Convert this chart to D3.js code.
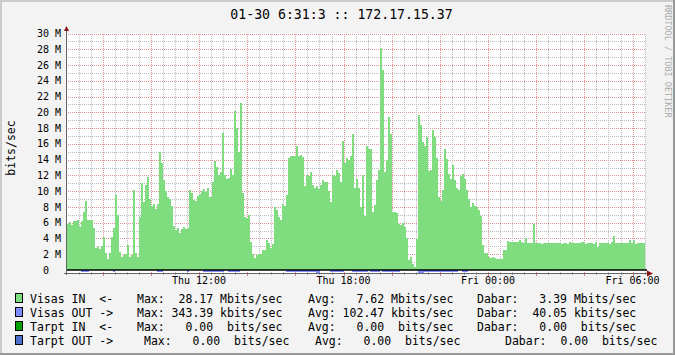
<!DOCTYPE html>
<html>
<head>
<meta charset="utf-8">
<script src="https://cdn.jsdelivr.net/npm/d3@7"></script>
<style>
  body { margin: 0; background: #f3f3f3; }
  svg { display: block; }
  svg text { font-family: "DejaVu Sans Mono", monospace; white-space: pre; }
</style>
</head>
<body>
<div id="chart"></div>
<script>
  'use strict';

  // 24h of 5 minute samples, Thu 06:31 -> Fri 06:31
  const startTime = new Date(2015, 0, 29, 6, 31);
  const endTime = new Date(2015, 0, 30, 6, 31);
  const title = '01-30 6:31:3 :: 172.17.15.37';
  const unitLabel = 'bits/sec';
  const watermark = 'RRDTOOL / TOBI OETIKER';

  // Visas IN, Mbits/sec
  const inMbits = [
    5.8, 6.1, 5.7, 6.2, 6.2, 6.3, 5.5, 6.2, 7.3, 8.8,
    6.4, 6.3, 6.4, 5.3, 2.75, 2.9, 2.7, 3.0, 4.2, 2.1,
    1.4, 2.2, 4.2, 5.3, 9.5, 7.0, 2.3, 1.6, 1.9, 2.0,
    3.2, 1.6, 1.9, 10.2, 2.2, 1.7, 6.7, 11.0, 8.6, 10.8,
    11.8, 9.0, 8.1, 8.4, 7.7, 8.4, 15.0, 13.6, 11.4, 10.0,
    9.3, 9.0, 8.1, 5.6, 5.1, 5.3, 4.7, 5.2, 5.4, 5.2,
    5.3, 10.2, 9.8, 8.9, 8.8, 9.4, 9.7, 10.0, 10.3, 9.9,
    10.4, 9.3, 11.2, 13.8, 13.1, 12.1, 12.4, 17.4, 12.1, 11.5,
    11.7, 12.8, 12.1, 20.2, 18.0, 15.0, 21.2, 9.8, 6.7, 6.6,
    7.0, 3.6, 2.0, 1.5, 1.9, 2.0, 2.0, 2.5, 2.5, 3.8,
    3.4, 2.75, 3.3, 8.0, 7.6, 6.7, 6.4, 8.4, 8.1, 9.5,
    14.2, 14.5, 14.5, 14.5, 15.7, 14.5, 14.6, 14.3, 10.6, 12.1,
    11.9, 12.4, 10.8, 10.4, 10.6, 10.3, 10.8, 11.4, 11.2, 11.1,
    10.0, 8.6, 12.1, 11.9, 12.7, 12.3, 11.1,
    16.4, 13.6, 14.2, 14.0, 14.5,
    17.2, 10.4, 11.5, 10.4, 8.05, 12.1, 6.9, 15.7, 15.3, 15.3,
    7.3, 8.3, 11.4, 12.7, 28.17, 25.4, 12.4, 13.9, 19.4, 17.2,
    7.3, 7.4, 7.2, 5.8, 5.7, 5.9, 5.5, 4.0, 1.3, 1.6,
    0.8, 0.4, 3.9, 19.6, 18.4, 16.3, 15.7, 16.9, 12.5, 12.7,
    17.7, 16.9, 14.2, 9.3, 8.8, 10.2, 15.3, 14.1, 12.2,
    11.5, 13.3, 11.4, 10.4, 10.1, 11.9, 12.2, 11.5, 10.2, 9.0,
    8.0, 8.5, 8.1, 8.05, 7.6, 6.8, 3.2, 2.2, 2.1, 1.6,
    1.5, 1.6, 1.5, 1.4, 1.4, 1.4, 2.6, 2.5, 3.7, 3.6,
    3.6, 3.6, 3.5, 3.5, 3.8, 3.5, 3.4, 4.1, 3.4, 3.4,
    3.4, 5.8, 3.4, 3.4, 3.4, 3.3, 3.4, 3.4,
    3.4, 3.4, 3.4, 3.4, 3.4, 3.4, 3.4, 3.3, 3.4, 3.4,
    3.3, 3.6, 3.4, 3.4, 3.4, 3.4, 3.4, 3.6, 3.6, 3.3,
    3.4, 3.4, 3.4, 3.3, 3.5, 2.9, 3.4, 3.4, 3.4, 3.4,
    3.4, 3.3, 3.6, 4.3, 3.4, 3.4, 3.4, 3.4, 3.4, 3.4,
    3.4, 3.8, 3.4, 3.8, 3.3, 3.4, 3.4, 3.4, 3.39
  ];

  // Visas OUT, kbits/sec (drawn below zero)
  const outKbits = [
    40, 45, 38, 50, 42, 36, 48,
    240, 260, 250, 230,
    40, 35, 50, 45, 38, 42, 30, 36, 44, 40, 38, 46,
    200,
    40, 38, 45, 50, 36, 42, 40, 35, 48, 44, 40, 38, 42, 46, 36, 40, 44, 38, 50, 42, 40,
    240, 255, 230,
    45, 40, 38, 42, 36, 44, 40, 38, 46, 42, 40, 36,
    210,
    42, 38, 40, 45, 36, 40, 44,
    240, 255, 250, 230, 245, 260, 250, 235, 245, 250,
    45, 40,
    245, 250, 240, 260, 255, 235,
    42, 38, 40, 45, 36, 40, 44, 38, 42, 46, 40, 36, 44, 40, 38, 42, 45, 40, 36, 44, 40, 42, 38,
    245, 250, 255, 240, 260, 250, 245, 235, 250, 255, 245, 240, 250, 260, 245,
    343.39, 330,
    40, 42, 38, 45, 40,
    240, 250, 255, 245, 235, 250, 245,
    42, 38, 40, 44,
    250, 245, 255, 240, 250, 260, 245, 250, 60, 240, 255, 250,
    245, 235, 60, 250, 245, 255, 240, 250, 245, 260, 250, 240,
    40, 38, 42, 45, 36, 40, 44, 38, 42,
    320, 330, 335, 315,
    250, 245, 255, 240, 250, 260, 245, 250, 240, 255, 250, 245, 235, 250, 245, 255,
    40, 38,
    240, 250, 245,
    30, 28, 32, 35, 30, 26, 34, 31, 29, 33, 30,
    27, 32, 30, 36, 29, 31, 28, 34, 30, 32, 29,
    31, 30, 27, 33, 35, 30, 28, 32, 30, 29, 34,
    30, 32, 28, 31, 36, 30, 29, 33, 27, 31, 30,
    34, 29, 31, 30, 28, 32, 30, 35, 29, 31, 33,
    28, 30, 32, 29, 31, 34, 30, 27, 32, 30, 31,
    29, 33, 30, 28, 31, 30, 36, 29, 32, 30, 28,
    31, 30, 34, 29, 32, 30, 31, 28, 33, 30, 40.05
  ];

  const yTicks = [0, 2, 4, 6, 8, 10, 12, 14, 16, 18, 20, 22, 24, 26, 28, 30];

  const legendNames = ['Visas IN  <-', 'Visas OUT ->', 'Tarpt IN  <-', 'Tarpt OUT ->'];
  const legendColors = ['#7fdc7f', '#7f8cff', '#00a000', '#4f6fcf'];
  const maxValues = [28.17, 343.39, 0, 0];
  const avgValues = [7.62, 102.47, 0, 0];
  const curValues = [3.39, 40.05, 0, 0];
  const valuePrefix = ['M', 'k', ' ', ' '];

  const W = 675, H = 355;
  const plotLeft = 67, plotRight = 645, plotTop = 33.5, plotBottom = 273;

  const svg = d3.select('#chart').append('svg')
    .attr('width', W)
    .attr('height', H);

  svg.append('rect').attr('width', W).attr('height', H).attr('fill', '#f3f3f3');
  // shaded frame
  svg.append('path').attr('d', `M1,${H} V1 H${W}`).attr('fill', 'none')
    .attr('stroke', '#cbcbcb').attr('stroke-width', 2);
  svg.append('path').attr('d', `M0,${H - 1} H${W - 1} V0`).attr('fill', 'none')
    .attr('stroke', '#999').attr('stroke-width', 2);

  const x = d3.scaleTime().domain([startTime, endTime]).range([plotLeft, plotRight]);
  const y = d3.scaleLinear().domain([-0.38, 30]).range([plotBottom, plotTop]);

  svg.append('rect')
    .attr('x', plotLeft).attr('y', plotTop)
    .attr('width', plotRight - plotLeft).attr('height', plotBottom - plotTop)
    .attr('fill', '#fff');

  // dotted grid via 1px patterns so every dot lands on a whole pixel
  const minorColor = '#bcbcbc', majorColor = '#e39494';
  const defs = svg.append('defs');
  const dotPattern = (id, w, h, color) => {
    defs.append('pattern')
      .attr('id', id)
      .attr('patternUnits', 'userSpaceOnUse')
      .attr('width', w).attr('height', h)
      .append('rect').attr('width', 1).attr('height', 1).attr('fill', color);
  };
  dotPattern('hMinor', 2, 1, minorColor);
  dotPattern('hMajor', 2, 1, majorColor);
  dotPattern('vMinor', 1, 2, minorColor);
  dotPattern('vMajor', 1, 2, majorColor);

  const isMajor = d => d.getMinutes() === 0 && d.getHours() % 2 === 0;
  const grid = svg.append('g').attr('shape-rendering', 'crispEdges');

  // horizontal grid: every 1 M, red every 2 M
  const hLines = d3.range(1, 31);
  grid.selectAll('rect.h').data(hLines).enter().append('rect')
    .attr('x', plotLeft).attr('width', plotRight - plotLeft + 1)
    .attr('y', d => Math.round(y(d))).attr('height', 1)
    .attr('fill', d => d % 2 === 0 ? 'url(#hMajor)' : 'url(#hMinor)');

  // vertical grid: every 30 min, red every 2 hours
  const minorTimes = d3.timeMinute.every(30).range(startTime, endTime);
  grid.selectAll('rect.v').data(minorTimes).enter().append('rect')
    .attr('x', d => Math.round(x(d))).attr('width', 1)
    .attr('y', 33).attr('height', plotBottom - 33)
    .attr('fill', d => isMajor(d) ? 'url(#vMajor)' : 'url(#vMinor)');

  // ticks below the axis
  grid.selectAll('rect.tick').data(minorTimes).enter().append('rect')
    .attr('x', d => Math.round(x(d))).attr('width', 1)
    .attr('y', plotBottom).attr('height', d => isMajor(d) ? 3 : 2)
    .attr('fill', d => isMajor(d) ? '#d08080' : '#aaa');

  // series
  const step = 5;
  const inData = inMbits.map((v, i) => ({ t: d3.timeMinute.offset(startTime, step * i), v }));
  inData.push({ t: endTime, v: inMbits[inMbits.length - 1] });
  const outData = outKbits.map((v, i) => ({ t: d3.timeMinute.offset(startTime, step * i), v: -v / 1000 }));
  outData.push({ t: endTime, v: -outKbits[outKbits.length - 1] / 1000 });

  const area = d3.area()
    .curve(d3.curveStepAfter)
    .x(d => x(d.t))
    .y0(y(0))
    .y1(d => y(d.v));

  svg.append('path').datum(inData)
    .attr('d', area)
    .attr('fill', legendColors[0])
    .attr('shape-rendering', 'crispEdges');

  svg.append('path').datum(outData)
    .attr('d', area)
    .attr('fill', legendColors[1])
    .attr('shape-rendering', 'crispEdges');

  // zero line (Tarpt series sit at 0)
  svg.append('line')
    .attr('x1', plotLeft).attr('x2', plotRight + 2)
    .attr('y1', y(0)).attr('y2', y(0))
    .attr('stroke', '#000').attr('stroke-width', 1.5);

  // axes with arrows
  svg.append('line')
    .attr('x1', plotLeft - 0.5).attr('x2', plotLeft - 0.5)
    .attr('y1', plotBottom + 2).attr('y2', 29)
    .attr('stroke', '#666');
  svg.append('path')
    .attr('d', `M${plotLeft - 3},31 L${plotLeft + 2},31 L${plotLeft - 0.5},26 Z`)
    .attr('fill', '#8b1010');
  svg.append('line')
    .attr('x1', plotLeft - 3).attr('x2', plotRight + 3)
    .attr('y1', plotBottom + 0.5).attr('y2', plotBottom + 0.5)
    .attr('stroke', '#666');
  svg.append('path')
    .attr('d', `M${plotRight + 2},${plotBottom - 2.5} L${plotRight + 2},${plotBottom + 3.5} L${plotRight + 8},${plotBottom + 0.5} Z`)
    .attr('fill', '#8b1010');

  // y labels
  svg.append('g').selectAll('text').data(yTicks).enter().append('text')
    .attr('x', d => d === 0 ? plotLeft - 18 : plotLeft - 6)
    .attr('y', d => y(d))
    .attr('dy', '0.36em')
    .attr('text-anchor', 'end')
    .attr('font-size', '10px')
    .attr('fill', '#000')
    .text(d => d === 0 ? '0' : `${d} M`);

  // x labels
  const labelTimes = d3.timeHour.every(6).range(startTime, endTime);
  const fmtTime = d3.timeFormat('%a %H:%M');
  svg.append('g').selectAll('text').data(labelTimes).enter().append('text')
    .attr('x', d => x(d))
    .attr('y', 284)
    .attr('text-anchor', 'middle')
    .attr('font-size', '10px')
    .text(d => fmtTime(d));

  svg.append('text')
    .attr('x', 341.5).attr('y', 18.5)
    .attr('text-anchor', 'middle')
    .attr('font-size', '13.2px')
    .text(title);

  svg.append('text')
    .attr('transform', 'translate(15,148) rotate(-90)')
    .attr('text-anchor', 'middle')
    .attr('font-size', '11.5px')
    .text(unitLabel);

  svg.append('text')
    .attr('transform', 'translate(664.5,5) rotate(90)')
    .attr('font-size', '8.5px')
    .attr('fill', '#ababab')
    .text(watermark);

  // legend
  const fmt6 = d3.format('>6.2f');
  const fmt5 = d3.format('>5.2f');
  const rowBase = [303, 317, 331, 345];
  const colMax = [137, 137, 137, 144];
  const colAvg = [308, 308, 308, 315];
  const colCur = [477, 477, 477, 505];

  const rows = svg.append('g').attr('font-size', '11.5px')
    .selectAll('g').data(legendNames).enter().append('g');

  rows.append('rect')
    .attr('x', 15.5).attr('y', (d, i) => rowBase[i] - 9.5)
    .attr('width', 7).attr('height', 9)
    .attr('fill', (d, i) => legendColors[i])
    .attr('stroke', '#000');

  rows.append('text').attr('x', 30).attr('y', (d, i) => rowBase[i]).text(d => d);
  rows.append('text').attr('x', (d, i) => colMax[i]).attr('y', (d, i) => rowBase[i])
    .text((d, i) => `Max: ${fmt6(maxValues[i])} ${valuePrefix[i]}bits/sec`);
  rows.append('text').attr('x', (d, i) => colAvg[i]).attr('y', (d, i) => rowBase[i])
    .text((d, i) => `Avg: ${fmt6(avgValues[i])} ${valuePrefix[i]}bits/sec`);
  rows.append('text').attr('x', (d, i) => colCur[i]).attr('y', (d, i) => rowBase[i])
    .text((d, i) => `Dabar: ${i === 3 ? fmt5(curValues[i]) : fmt6(curValues[i])} ${valuePrefix[i]}bits/sec`);
</script>
</body>
</html>
